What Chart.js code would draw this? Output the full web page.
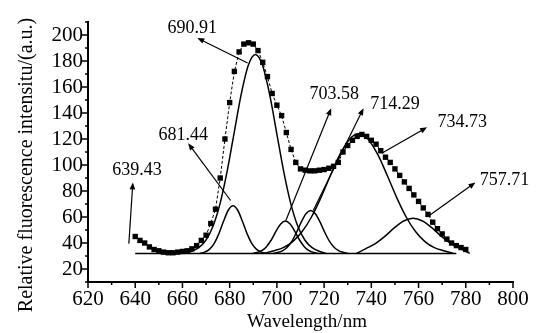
<!DOCTYPE html>
<html>
<head>
<meta charset="utf-8">
<script src="https://cdn.jsdelivr.net/npm/chart.js@4.4.1/dist/chart.umd.min.js"></script>
<style>
  html, body { margin: 0; padding: 0; background: #fff; }
</style>
</head>
<body>
<canvas id="spectrum" width="536" height="333"></canvas>
<script>
// measured spectrum (squares), one point every 2 nm
const wavelengths = [640, 642, 644, 646, 648, 650, 652, 654, 656, 658,
  660, 662, 664, 666, 668, 670, 672, 674, 676, 678,
  680, 682, 684, 686, 688, 690, 692, 694, 696, 698,
  700, 702, 704, 706, 708, 710, 712, 714, 716, 718,
  720, 722, 724, 726, 728, 730, 732, 734, 736, 738,
  740, 742, 744, 746, 748, 750, 752, 754, 756, 758,
  760, 762, 764, 766, 768, 770, 772, 774, 776, 778, 780];
const intensity = [45, 42, 40, 37, 35, 34, 33, 32.5, 32.5, 33,
  33.5, 34, 35.5, 38, 42, 46, 55, 66, 90, 120,
  148, 172, 187, 193, 194, 193, 188, 179, 168, 155,
  146, 138, 125, 112, 102, 97, 96, 95.5, 95.5, 96,
  96.5, 97.5, 99, 102, 110, 115, 119, 122, 123.5, 122,
  119, 116, 111, 106, 102, 97, 92, 87, 82, 77,
  72, 67, 62, 56, 51, 47, 43, 40, 38, 36.5, 35];

// fitted components
const fit681x = [667.4, 669.4, 671.4, 673.4, 675.4, 677.4, 679.4, 681.4, 683.4, 685.4, 687.4, 689.4, 691.4, 693.4, 695.4];
const fit681y = [32, 33.0, 35.1, 39.5, 47.0, 56.7, 65.2, 68.6, 65.2, 56.7, 47.0, 39.5, 35.1, 33.0, 32];

const fit691x = [660.9, 663.9, 666.9, 669.9, 672.9, 675.9, 678.9, 681.9, 684.9, 687.9, 690.9,
  693.9, 696.9, 699.9, 702.9, 705.9, 708.9, 711.9, 714.9, 717.9, 720.9];
const fit691y = [32, 33.7, 36.4, 42.1, 52.7, 70.1, 94.9, 124.8, 154.5, 176.7, 185,
  176.7, 154.5, 124.8, 94.9, 70.1, 52.7, 42.1, 36.4, 33.7, 32];

const fit704x = [689.6, 691.6, 693.6, 695.6, 697.6, 699.6, 701.6, 703.6, 705.6, 707.6, 709.6, 711.6, 713.6, 715.6, 717.6];
const fit704y = [32, 32.7, 34.1, 37.2, 42.3, 48.9, 54.7, 57, 54.7, 48.9, 42.3, 37.2, 34.1, 32.7, 32];

const fit714x = [698.3, 700.3, 702.3, 704.3, 706.3, 708.3, 710.3, 712.3, 714.3, 716.3, 718.3, 720.3, 722.3, 724.3, 726.3, 728.3, 730.3];
const fit714y = [32, 32.7, 33.9, 36.5, 41.2, 48.1, 56, 62.5, 65, 62.5, 56, 48.1, 41.2, 36.5, 33.9, 32.7, 32];

const fit735x = [694.7, 698.7, 702.7, 706.7, 710.7, 714.7, 718.7, 722.7, 726.7, 730.7, 734.7,
  738.7, 742.7, 746.7, 750.7, 754.7, 758.7, 762.7, 766.7, 770.7, 774.7];
const fit735y = [32, 34.0, 36.4, 41.1, 48.8, 60.2, 75.1, 92.1, 108.1, 119.7, 124,
  119.7, 108.1, 92.1, 75.1, 60.2, 48.8, 41.1, 36.4, 34.0, 32];

const fit758x = [733.7, 737.7, 741.7, 745.7, 749.7, 753.7, 757.7, 761.7, 765.7, 769.7, 773.7, 777.7, 781.7];
const fit758y = [32, 35.7, 39.5, 45.1, 51.6, 56.9, 59, 56.9, 51.6, 45.1, 39.5, 35.7, 32];

const baselineX = [640, 776];
const baselineY = [32, 32];

// peak labels with their arrows (data units)
const peakLabels = ['639.43', '681.44', '690.91', '703.58', '714.29', '734.73', '757.71'];
const labelX = [640.7, 660.3, 664.2, 724.3, 750.0, 778.5, 796.4];
const labelY = [95.8, 122.8, 205.4, 154.5, 146.8, 132.9, 88.1];
const arrowFromX = [637.3, 680.4, 687.6, 703.8, 715.4, 744.4, 764.4];
const arrowFromY = [39.5, 72.7, 178.4, 57.3, 65.0, 109.0, 61.0];
const arrowToX = [639.0, 662.4, 666.3, 723.0, 736.7, 763.6, 784.1];
const arrowToY = [86.6, 116.7, 197.7, 143.7, 143.7, 129.0, 86.6];

const xTitle = 'Wavelength/nm';
const yTitle = 'Relative fluorescence intensitu/(a.u.)';

const serif = "'Liberation Serif', 'Times New Roman', serif";

function points(xs, ys) {
  return xs.map((x, i) => ({ x: x, y: ys[i] }));
}

function fitLine(xs, ys) {
  return {
    data: points(xs, ys),
    borderColor: '#000',
    borderWidth: 1.5,
    pointRadius: 0,
    fill: false,
    cubicInterpolationMode: 'monotone'
  };
}

function drawArrow(ctx, x1, y1, x2, y2) {
  const ang = Math.atan2(y2 - y1, x2 - x1);
  const len = 7, half = 2.8;
  ctx.beginPath();
  ctx.moveTo(x1, y1);
  ctx.lineTo(x2 - Math.cos(ang) * len * 0.7, y2 - Math.sin(ang) * len * 0.7);
  ctx.stroke();
  ctx.beginPath();
  ctx.moveTo(x2, y2);
  ctx.lineTo(x2 - Math.cos(ang) * len + Math.sin(ang) * half, y2 - Math.sin(ang) * len - Math.cos(ang) * half);
  ctx.lineTo(x2 - Math.cos(ang) * len - Math.sin(ang) * half, y2 - Math.sin(ang) * len + Math.cos(ang) * half);
  ctx.closePath();
  ctx.fill();
}

// tick marks, axis titles and the peak labels
const decorations = {
  id: 'decorations',
  afterDraw(chart) {
    const ctx = chart.ctx;
    const xs = chart.scales.x, ys = chart.scales.y;
    const area = chart.chartArea;
    ctx.save();
    ctx.strokeStyle = '#000';
    ctx.fillStyle = '#000';
    ctx.lineWidth = 1.5;

    // y ticks (outside, left)
    for (let v = 10; v <= 210; v += 10) {
      const y = ys.getPixelForValue(v);
      const len = v % 20 === 0 ? 6 : 3;
      ctx.beginPath();
      ctx.moveTo(area.left, y);
      ctx.lineTo(area.left - len, y);
      ctx.stroke();
    }
    // x ticks (outside, down)
    for (let w = 620; w <= 800; w += 10) {
      const x = xs.getPixelForValue(w);
      const len = w % 20 === 0 ? 6 : 3;
      ctx.beginPath();
      ctx.moveTo(x, area.bottom);
      ctx.lineTo(x, area.bottom + len);
      ctx.stroke();
    }

    // axis titles
    ctx.font = '19px ' + serif;
    ctx.textAlign = 'center';
    ctx.textBaseline = 'middle';
    ctx.fillText(xTitle, 307, 322);
    ctx.save();
    ctx.translate(27, 165);
    ctx.rotate(-Math.PI / 2);
    ctx.font = '20px ' + serif;
    ctx.fillText(yTitle, 0, 0);
    ctx.restore();

    // peak labels and arrows
    ctx.lineWidth = 1.2;
    ctx.font = '18px ' + serif;
    peakLabels.forEach((txt, i) => {
      drawArrow(ctx,
        xs.getPixelForValue(arrowFromX[i]), ys.getPixelForValue(arrowFromY[i]),
        xs.getPixelForValue(arrowToX[i]), ys.getPixelForValue(arrowToY[i]));
      ctx.fillText(txt, xs.getPixelForValue(labelX[i]), ys.getPixelForValue(labelY[i]));
    });
    ctx.restore();
  }
};

const ctx = document.getElementById('spectrum').getContext('2d');

new Chart(ctx, {
  type: 'line',
  data: {
    datasets: [
      {
        data: points(wavelengths, intensity),
        borderColor: '#000',
        borderWidth: 1,
        borderDash: [3, 2],
        pointStyle: 'rect',
        pointRadius: 3.8,
        pointBackgroundColor: '#000',
        pointBorderColor: '#000',
        pointBorderWidth: 0,
        tension: 0,
        fill: false
      },
      fitLine(fit681x, fit681y),
      fitLine(fit691x, fit691y),
      fitLine(fit704x, fit704y),
      fitLine(fit714x, fit714y),
      fitLine(fit735x, fit735y),
      fitLine(fit758x, fit758y),
      {
        data: points(baselineX, baselineY),
        borderColor: '#000',
        borderWidth: 1.5,
        pointRadius: 0,
        fill: false
      }
    ]
  },
  options: {
    responsive: false,
    devicePixelRatio: 1,
    animation: false,
    layout: {
      padding: { left: 0, top: 22, right: 23, bottom: 0 }
    },
    plugins: {
      legend: { display: false },
      tooltip: { enabled: false }
    },
    scales: {
      x: {
        type: 'linear',
        min: 620,
        max: 800,
        afterFit: (scale) => { scale.height = 51; },
        grid: { display: false, drawTicks: false },
        border: { display: true, color: '#000', width: 2 },
        ticks: {
          stepSize: 20,
          padding: 5,
          color: '#000',
          maxRotation: 0,
          autoSkip: false,
          font: { family: serif, size: 21 }
        }
      },
      y: {
        min: 10,
        max: 210,
        afterFit: (scale) => { scale.width = 88; },
        grid: { display: false, drawTicks: false },
        border: { display: true, color: '#000', width: 2 },
        ticks: {
          stepSize: 10,
          padding: 5,
          color: '#000',
          autoSkip: false,
          font: { family: serif, size: 21 },
          callback: function(value) {
            return (value % 20 === 0 && value >= 20 && value <= 200) ? value : '';
          }
        }
      }
    }
  },
  plugins: [decorations]
});
</script>
</body>
</html>
